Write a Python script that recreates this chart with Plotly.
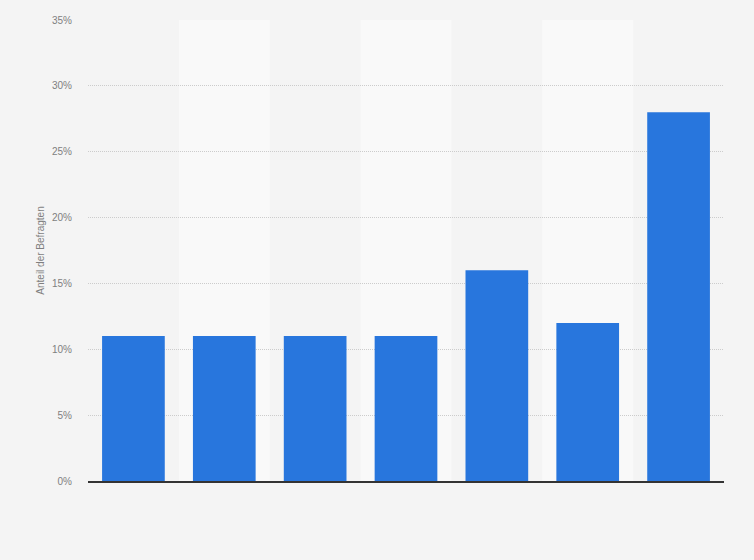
import plotly.graph_objects as go

# Daten (Kategorienamen im Original nicht sichtbar)
kategorien = ["A", "B", "C", "D", "E", "F", "G"]
anteile = [11, 11, 11, 11, 16, 12, 28]
y_ticks = [0, 5, 10, 15, 20, 25, 30, 35]
y_labels = [f"{v}%" for v in y_ticks]

fig = go.Figure()
fig.add_trace(go.Bar(
    x=kategorien,
    y=anteile,
    marker=dict(color="#2876dd", line=dict(width=0)),
    width=0.69,
    hovertemplate="%{y}%<extra></extra>",
))

# abwechselnde Hintergrundstreifen
shapes = []
for i in range(1, len(kategorien), 2):
    shapes.append(dict(
        type="rect", xref="x", yref="paper",
        x0=i - 0.5, x1=i + 0.5, y0=0, y1=1,
        fillcolor="#f9f9f9", line=dict(width=0), layer="below",
    ))

fig.update_layout(
    width=754, height=560,
    margin=dict(l=88, r=30, t=20, b=79),
    paper_bgcolor="#f4f4f4",
    plot_bgcolor="#f4f4f4",
    font=dict(family="Liberation Sans, Arial, sans-serif", size=10, color="#7f7f7f"),
    showlegend=False,
    bargap=0.31,
    shapes=shapes,
)
fig.update_xaxes(
    showticklabels=False, showgrid=False, ticks="",
    showline=True, linecolor="#333333", linewidth=1.5,
    range=[-0.5, len(kategorien) - 0.5],
)
fig.update_yaxes(
    range=[0, 35], tickvals=y_ticks, ticktext=y_labels,
    showgrid=True, gridcolor="#cccccc", griddash="1px,1px", gridwidth=1,
    zeroline=False, ticks="", ticklen=0, ticklabelstandoff=15,
    title=dict(text="Anteil der Befragten", font=dict(size=10, color="#7f7f7f"), standoff=5),
    tickfont=dict(size=10, color="#7f7f7f"),
)

# Seitenrand des Browsers entfernen
fig.write_html("out.html", config={"displayModeBar": False},
               post_script="document.body.style.margin='0';")
